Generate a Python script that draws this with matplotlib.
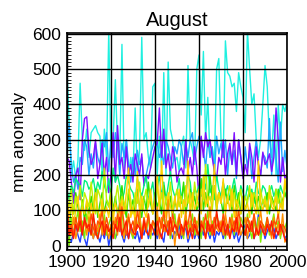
import matplotlib
matplotlib.use('Agg')
import matplotlib.pyplot as plt
from matplotlib.ticker import MultipleLocator

plt.rcParams['font.family'] = ['Liberation Sans', 'DejaVu Sans']

years = list(range(1900, 2001))

# 8月降水距平 各序列 (1900-2000)
cyan = [505, 350, 200, 240, 190, 240, 460, 300, 270, 330,
        250, 320, 330, 340, 320, 310, 200, 330, 250, 610,
        250, 300, 470, 280, 250, 570, 220, 300, 200, 250,
        200, 390, 200, 270, 590, 300, 320, 250, 220, 450,
        460, 200, 310, 220, 490, 200, 520, 330, 300, 240,
        250, 210, 280, 310, 220, 510, 300, 270, 230, 500,
        540, 370, 550, 300, 420, 250, 280, 230, 500, 530,
        300, 250, 580, 490, 480, 450, 460, 380, 490, 450,
        420, 320, 610, 500, 400, 430, 300, 250, 300, 400,
        510, 450, 300, 250, 370, 200, 400, 300, 400, 380,
        410]
skyblue = [240, 345, 230, 180, 200, 160, 250, 230, 300, 280,
           200, 260, 220, 290, 250, 230, 300, 280, 320, 210,
           300, 250, 320, 280, 200, 290, 250, 300, 230, 180,
           250, 200, 270, 230, 250, 180, 200, 230, 260, 280,
           300, 290, 250, 270, 230, 300, 280, 250, 220, 280,
           260, 300, 280, 230, 290, 250, 300, 320, 240, 280,
           310, 300, 270, 220, 300, 250, 280, 200, 310, 260,
           290, 250, 300, 200, 280, 230, 270, 190, 300, 250,
           200, 280, 220, 270, 190, 250, 300, 230, 200, 260,
           250, 220, 360, 200, 300, 250, 180, 350, 210, 270,
           220]
purple = [250, 240, 180, 120, 200, 220, 130, 300, 360, 365,
          270, 230, 250, 300, 190, 230, 290, 200, 250, 150,
          200, 320, 180, 340, 230, 250, 190, 280, 200, 230,
          180, 260, 230, 200, 260, 170, 200, 190, 220, 250,
          280, 290, 390, 250, 330, 220, 260, 200, 280, 250,
          180, 210, 220, 200, 300, 210, 250, 200, 280, 220,
          130, 310, 250, 320, 280, 300, 250, 210, 190, 250,
          230, 300, 200, 260, 290, 230, 320, 200, 300, 250,
          190, 230, 200, 290, 250, 180, 280, 230, 200, 265,
          230, 240, 260, 210, 250, 390, 300, 180, 250, 190,
          200]
blue = [80, 20, 10, 40, 60, 30, 10, 50, 20, 0,
        40, 60, 20, 50, 30, 10, 40, 20, 50, 0,
        30, 50, 20, 40, 60, 30, 10, 40, 20, 50,
        30, 20, 40, 10, 50, 30, 60, 20, 40, 30,
        50, 20, 40, 30, 10, 60, 30, 50, 20, 40,
        30, 60, 20, 40, 50, 10, 30, 60, 20, 40,
        20, 50, 30, 60, 40, 20, 50, 10, 40, 30,
        50, 20, 40, 60, 30, 50, 20, 40, 10, 30,
        40, 60, 20, 30, 50, 20, 40, 90, 30, 50,
        20, 40, 60, 30, 50, 20, 40, 30, 60, 20,
        30]
springgreen = [160, 130, 170, 150, 190, 180, 170, 140, 185, 180,
               160, 170, 190, 150, 180, 160, 210, 170, 150, 190,
               140, 220, 180, 200, 170, 130, 150, 200, 180, 160,
               150, 120, 190, 160, 140, 170, 200, 130, 150, 180,
               120, 160, 200, 140, 180, 130, 170, 210, 160, 140,
               150, 190, 130, 170, 140, 200, 180, 120, 160, 150,
               170, 140, 190, 160, 230, 150, 170, 130, 200, 160,
               140, 180, 150, 170, 130, 160, 190, 150, 120, 170,
               150, 130, 170, 140, 160, 120, 180, 150, 140, 170,
               160, 130, 150, 170, 140, 160, 130, 170, 150, 140,
               160]
green = [100, 40, 120, 90, 150, 110, 80, 130, 70, 120,
         90, 140, 100, 160, 80, 120, 150, 90, 130, 110,
         160, 100, 140, 90, 120, 170, 110, 80, 150, 100,
         130, 90, 160, 110, 80, 140, 100, 180, 120, 90,
         150, 110, 130, 90, 170, 120, 100, 140, 80, 130,
         100, 150, 120, 180, 90, 130, 160, 110, 140, 100,
         120, 190, 100, 150, 110, 200, 130, 170, 100, 150,
         130, 90, 160, 120, 140, 100, 170, 110, 150, 90,
         140, 100, 130, 160, 90, 150, 110, 140, 100, 130,
         110, 150, 90, 140, 120, 100, 160, 110, 130, 150,
         130]
yellowgreen = [130, 110, 160, 90, 140, 120, 170, 100, 150, 130,
               110, 180, 120, 90, 160, 140, 100, 220, 130, 110,
               150, 90, 130, 170, 110, 140, 120, 100, 160, 130,
               90, 150, 120, 180, 100, 130, 160, 110, 140, 90,
               130, 170, 110, 150, 90, 140, 120, 180, 100, 130,
               160, 110, 140, 90, 170, 120, 150, 100, 180, 130,
               110, 160, 130, 230, 120, 140, 100, 170, 130, 150,
               120, 160, 100, 140, 170, 110, 150, 90, 130, 160,
               100, 140, 120, 170, 110, 150, 130, 90, 160, 120,
               140, 100, 170, 130, 110, 160, 120, 150, 100, 180,
               140]
chartreuse = [50, 0, 80, 30, 60, 100, 40, 70, 20, 90,
              60, 30, 80, 50, 20, 70, 40, 90, 30, 60,
              80, 40, 20, 70, 50, 100, 30, 60, 80, 40,
              20, 70, 50, 90, 30, 60, 40, 80, 20, 70,
              50, 90, 30, 60, 80, 40, 70, 20, 60, 90,
              30, 70, 50, 20, 80, 60, 40, 90, 30, 70,
              60, 20, 80, 50, 100, 30, 70, 40, 90, 60,
              40, 80, 20, 60, 50, 90, 30, 70, 40, 80,
              60, 30, 90, 50, 20, 70, 40, 80, 10, 60,
              50, 80, 30, 60, 90, 40, 70, 20, 60, 50,
              70]
yellow = [150, 80, 120, 60, 100, 140, 70, 110, 90, 130,
          60, 120, 80, 150, 100, 70, 130, 90, 110, 80,
          140, 70, 120, 100, 60, 130, 90, 150, 220, 80,
          110, 70, 210, 90, 140, 100, 80, 120, 160, 90,
          130, 200, 100, 240, 120, 80, 150, 110, 90, 140,
          100, 160, 80, 130, 110, 240, 90, 150, 100, 120,
          160, 90, 200, 110, 140, 80, 130, 230, 100, 150,
          120, 190, 90, 140, 100, 160, 80, 130, 110, 90,
          140, 100, 120, 80, 150, 110, 90, 240, 120, 100,
          130, 90, 150, 110, 100, 140, 80, 120, 100, 190,
          150]
orange = [100, 60, 30, 80, 20, 50, 90, 40, 70, 30,
          80, 50, 20, 60, 40, 90, 30, 70, 50, 20,
          60, 40, 80, 30, 120, 50, 20, 70, 90, 40,
          30, 80, 50, 100, 20, 60, 40, 90, 30, 70,
          50, 110, 20, 80, 40, 60, 130, 30, 70, 0,
          60, 90, 30, 50, 100, 20, 70, 40, 80, 30,
          90, 40, 70, 20, 60, 110, 30, 80, 50, 40,
          70, 30, 90, 50, 20, 80, 40, 100, 60, 30,
          50, 80, 20, 70, 40, 90, 30, 60, 100, 40,
          30, 70, 50, 20, 80, 40, 60, 30, 90, 10,
          20]
orangered = [110, 40, 60, 30, 80, 50, 100, 40, 70, 60,
             40, 90, 50, 30, 70, 60, 100, 40, 80, 50,
             30, 70, 50, 90, 40, 110, 60, 30, 80, 50,
             70, 40, 100, 60, 30, 80, 50, 90, 40, 70,
             60, 30, 80, 50, 100, 40, 70, 30, 90, 60,
             40, 80, 50, 30, 70, 60, 100, 40, 80, 50,
             30, 70, 50, 90, 40, 60, 30, 80, 50, 70,
             40, 90, 60, 30, 80, 50, 70, 40, 100, 60,
             50, 30, 80, 60, 40, 90, 50, 30, 70, 60,
             40, 80, 50, 30, 70, 60, 90, 40, 60, 50,
             30]
red = [100, 30, 50, 20, 60, 40, 70, 30, 80, 50,
       60, 30, 90, 40, 20, 50, 70, 30, 60, 40,
       50, 20, 60, 40, 80, 30, 50, 70, 20, 60,
       40, 30, 60, 50, 20, 70, 40, 30, 60, 50,
       30, 70, 40, 20, 60, 50, 30, 80, 40, 60,
       50, 20, 60, 40, 70, 30, 50, 20, 60, 40,
       30, 60, 50, 20, 70, 40, 60, 30, 100, 50,
       40, 70, 30, 60, 20, 50, 40, 80, 30, 60,
       50, 30, 60, 40, 70, 20, 50, 30, 60, 40,
       30, 60, 40, 70, 20, 50, 30, 60, 40, 20,
       10]

series = [
    (cyan, '#20f0e0'),
    (skyblue, '#20a8ff'),
    (purple, '#8010ff'),
    (blue, '#2040ff'),
    (springgreen, '#00f080'),
    (green, '#30e000'),
    (yellowgreen, '#c0f000'),
    (chartreuse, '#80f000'),
    (yellow, '#ffd000'),
    (orange, '#ff9000'),
    (orangered, '#ff5000'),
    (red, '#ff1a00'),
]

fig = plt.figure(figsize=(3.07, 2.78), dpi=100)
ax = fig.add_axes([0.218, 0.101, 0.717, 0.78])

for vals, c in series:
    ax.plot(years, vals, color=c, linewidth=1.0)

ax.set_xlim(1900, 2000)
ax.set_ylim(-12, 602)
ax.xaxis.set_major_locator(MultipleLocator(20))
ax.xaxis.set_minor_locator(MultipleLocator(5))
ax.yaxis.set_major_locator(MultipleLocator(100))
ax.yaxis.set_minor_locator(MultipleLocator(10))
ax.grid(True, which='major', color='black', linewidth=1.0)
ax.set_axisbelow(False)
ax.tick_params(which='both', direction='in', labelsize=12.5, top=False, right=False)
ax.tick_params(which='major', length=0, pad=4)
ax.tick_params(which='minor', length=3)
for s in ax.spines.values():
    s.set_linewidth(1.2)

ax.set_title('August', fontsize=14.5, pad=5)
ax.set_ylabel('mm anomaly', fontsize=12.5, labelpad=4)

plt.savefig('out.png', dpi=100)
